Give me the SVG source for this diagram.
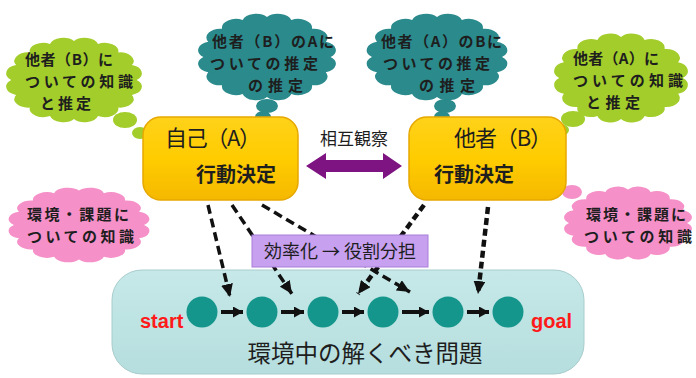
<svg xmlns="http://www.w3.org/2000/svg" xmlns:xlink="http://www.w3.org/1999/xlink" width="696" height="378" viewBox="0 0 696 378">
<style>
.jp{font-family:"Noto Sans CJK JP","Noto Sans",sans-serif;fill:#1e1e1e}
.ct{font-size:15px;font-weight:bold}
.teal{fill:#2a8a8c}
.green{fill:#a2cd2a}
.pink{fill:#f590c8}
.box{fill:url(#yel);stroke:#e6a800;stroke-width:1.5}
.dot{fill:#15968c}
.dash{fill:none;stroke:#111;stroke-width:3.5;stroke-dasharray:9 5;marker-end:url(#dh)}
.dashb{fill:none;stroke:#111;stroke-width:4.5;stroke-dasharray:7 4;marker-end:url(#dh)}
.step{fill:none;stroke:#111;stroke-width:4;marker-end:url(#sh)}
.lat{font-family:"Liberation Sans",Arial,sans-serif;font-weight:bold;font-size:20px;fill:#ff1a1a}
</style>
<defs>
<linearGradient id="yel" x1="0" y1="0" x2="0" y2="1">
<stop offset="0" stop-color="#ffd21a"/>
<stop offset="0.5" stop-color="#ffcc00"/>
<stop offset="1" stop-color="#f5b800"/>
</linearGradient>
<linearGradient id="pan" x1="0" y1="0" x2="0" y2="1">
<stop offset="0" stop-color="#c6e8e8"/>
<stop offset="1" stop-color="#b6dede"/>
</linearGradient>
<path id="cloud" d="M100,0 A22,22 0 0 1 92.39,38.27 A22,22 0 0 1 70.71,70.71 A22,22 0 0 1 38.27,92.39 A22,22 0 0 1 0,100 A22,22 0 0 1 -38.27,92.39 A22,22 0 0 1 -70.71,70.71 A22,22 0 0 1 -92.39,38.27 A22,22 0 0 1 -100,0 A22,22 0 0 1 -92.39,-38.27 A22,22 0 0 1 -70.71,-70.71 A22,22 0 0 1 -38.27,-92.39 A22,22 0 0 1 0,-100 A22,22 0 0 1 38.27,-92.39 A22,22 0 0 1 70.71,-70.71 A22,22 0 0 1 92.39,-38.27 A22,22 0 0 1 100,0 Z"/>
<marker id="dh" markerUnits="userSpaceOnUse" markerWidth="14" markerHeight="12" refX="13" refY="6" orient="auto">
<path d="M0,0 L13,6 L0,12 Z" fill="#111"/>
</marker>
<marker id="sh" markerUnits="userSpaceOnUse" markerWidth="11" markerHeight="11" refX="10" refY="5.5" orient="auto">
<path d="M0,0 L10,5.5 L0,11 Z" fill="#111"/>
</marker>
</defs>

<g id="problem-panel">
<rect x="112" y="270" width="472" height="104" rx="30" fill="url(#pan)" stroke="#a8cccc" stroke-width="1"/>
<text class="jp" x="365" y="362" font-size="23.5" text-anchor="middle">環境中の解くべき問題</text>
<text class="lat" x="140" y="328">start</text>
<text class="lat" x="531" y="328">goal</text>
</g>

<g id="steps">
<circle class="dot" cx="202" cy="312" r="15.5"/>
<circle class="dot" cx="262" cy="312" r="15.5"/>
<circle class="dot" cx="323" cy="312" r="15.5"/>
<circle class="dot" cx="383" cy="312" r="15.5"/>
<circle class="dot" cx="448" cy="312" r="15.5"/>
<circle class="dot" cx="508" cy="312" r="15.5"/>
</g>

<g id="connectors">
<line class="step" x1="221" y1="312" x2="243" y2="312"/>
<line class="step" x1="281" y1="312" x2="304" y2="312"/>
<line class="step" x1="342" y1="312" x2="364" y2="312"/>
<line class="step" x1="402" y1="312" x2="429" y2="312"/>
<line class="step" x1="467" y1="312" x2="489" y2="312"/>
<line class="dash" x1="208" y1="205" x2="230" y2="297"/>
<line class="dash" x1="232" y1="205" x2="292" y2="294"/>
<line class="dash" x1="262" y1="205" x2="410" y2="292"/>
<line class="dashb" x1="424" y1="205" x2="358" y2="294"/>
<line class="dashb" x1="488" y1="207" x2="478" y2="294"/>
<polygon points="306,166 326,153 326,160 383,160 383,153 402,166 383,179 383,172 326,172 326,179" fill="#7e1482"/>
</g>

<g id="mutual-label">
<text class="jp" x="354" y="145" font-size="17" text-anchor="middle">相互観察</text>
</g>

<g id="efficiency-label">
<rect x="252" y="235" width="176" height="32" fill="#c7a0ef" stroke="#a77fd8" stroke-width="1"/>
<text class="jp" x="340" y="258" font-size="18" text-anchor="middle">効率化 → 役割分担</text>
</g>

<g id="cloud-teal-A">
<use xlink:href="#cloud" class="teal" transform="translate(267,57) scale(0.636,0.4)"/>
<ellipse class="teal" cx="267" cy="106" rx="11" ry="7"/>
<ellipse class="teal" cx="263" cy="117" rx="8" ry="6"/>
<ellipse class="teal" cx="266" cy="127" rx="6" ry="5"/>
<text class="jp ct" x="212" y="47" textLength="122" lengthAdjust="spacing">他者（B）のAに</text>
<text class="jp ct" x="210" y="69" textLength="108" lengthAdjust="spacing">ついての推定</text>
<text class="jp ct" x="248" y="91" textLength="55" lengthAdjust="spacing">の推定</text>
</g>

<g id="cloud-teal-B">
<use xlink:href="#cloud" class="teal" transform="translate(437,57) scale(0.65,0.4)"/>
<ellipse class="teal" cx="445" cy="106" rx="11" ry="7"/>
<ellipse class="teal" cx="442" cy="117" rx="8" ry="6"/>
<ellipse class="teal" cx="446" cy="127" rx="6" ry="5"/>
<text class="jp ct" x="381" y="47" textLength="121" lengthAdjust="spacing">他者（A）のBに</text>
<text class="jp ct" x="383" y="69" textLength="107" lengthAdjust="spacing">ついての推定</text>
<text class="jp ct" x="419" y="91" textLength="56" lengthAdjust="spacing">の推定</text>
</g>

<g id="cloud-green-A">
<use xlink:href="#cloud" class="green" transform="translate(74,80) scale(0.627,0.39)"/>
<ellipse class="green" cx="125" cy="120" rx="12" ry="8"/>
<ellipse class="green" cx="140" cy="133" rx="8" ry="6"/>
<ellipse class="green" cx="152" cy="143" rx="5" ry="4"/>
<text class="jp ct" x="25" y="65" textLength="88" lengthAdjust="spacing">他者（B）に</text>
<text class="jp ct" x="25" y="87" textLength="108" lengthAdjust="spacing">ついての知識</text>
<text class="jp ct" x="40" y="109" textLength="51" lengthAdjust="spacing">と推定</text>
</g>

<g id="cloud-green-B">
<use xlink:href="#cloud" class="green" transform="translate(621,78) scale(0.618,0.41)"/>
<ellipse class="green" cx="573" cy="119" rx="12" ry="8"/>
<ellipse class="green" cx="561" cy="130" rx="8" ry="6"/>
<ellipse class="green" cx="551" cy="139" rx="5" ry="4"/>
<text class="jp ct" x="573" y="64" textLength="86" lengthAdjust="spacing">他者（A）に</text>
<text class="jp ct" x="573" y="86" textLength="110" lengthAdjust="spacing">ついての知識</text>
<text class="jp ct" x="586" y="108" textLength="54" lengthAdjust="spacing">と推定</text>
</g>

<g id="cloud-pink-A">
<use xlink:href="#cloud" class="pink" transform="translate(79,225) scale(0.65,0.345)"/>
<ellipse class="pink" cx="157" cy="185" rx="9" ry="6"/>
<ellipse class="pink" cx="167" cy="180" rx="5" ry="4"/>
<text class="jp ct" x="27" y="220" textLength="102" lengthAdjust="spacing">環境・課題に</text>
<text class="jp ct" x="27" y="242" textLength="107" lengthAdjust="spacing">ついての知識</text>
</g>

<g id="cloud-pink-B">
<use xlink:href="#cloud" class="pink" transform="translate(628,223) scale(0.59,0.336)"/>
<ellipse class="pink" cx="546" cy="180" rx="4" ry="3.5"/>
<ellipse class="pink" cx="556" cy="185" rx="6" ry="5"/>
<ellipse class="pink" cx="572" cy="192" rx="10" ry="7"/>
<text class="jp ct" x="586" y="220" textLength="100" lengthAdjust="spacing">環境・課題に</text>
<text class="jp ct" x="584" y="242" textLength="108" lengthAdjust="spacing">ついての知識</text>
</g>

<g id="node-A">
<rect class="box" x="143" y="117" width="155" height="83" rx="18"/>
<text class="jp" x="165" y="146" font-size="22" textLength="96" lengthAdjust="spacing">自己（A）</text>
<text class="jp" x="196" y="182" font-size="20" font-weight="bold">行動決定</text>
</g>

<g id="node-B">
<rect class="box" x="409" y="117" width="157" height="83" rx="18"/>
<text class="jp" x="454" y="146" font-size="22" textLength="98" lengthAdjust="spacing">他者（B）</text>
<text class="jp" x="434" y="182" font-size="20" font-weight="bold">行動決定</text>
</g>
</svg>
